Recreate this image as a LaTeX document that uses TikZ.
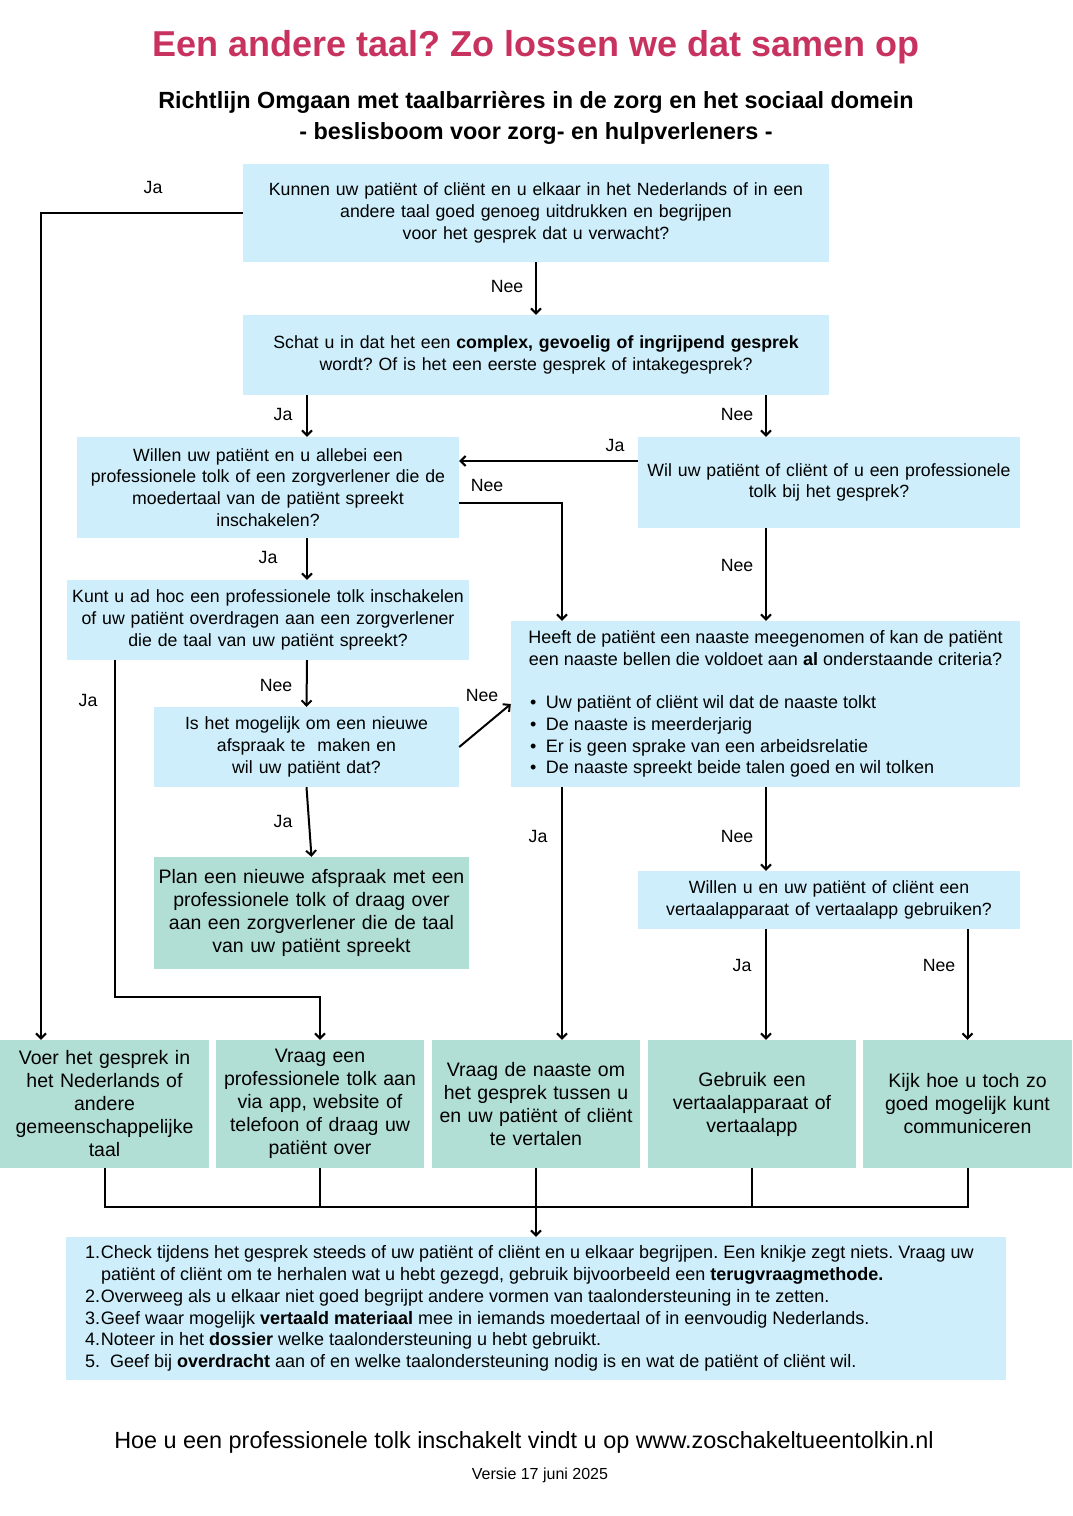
\documentclass[tikz,border=0pt]{standalone}
\usepackage{fontspec}
\setmainfont{Liberation Sans}
\usetikzlibrary{arrows.meta}
\frenchspacing

\definecolor{titlepink}{RGB}{200,50,95}
\definecolor{qblue}{RGB}{205,238,250}
\definecolor{agreen}{RGB}{178,223,213}

\newcommand{\qfont}{\fontsize{17.7}{21.7}\selectfont}
\newcommand{\lfont}{\fontsize{18}{21.7}\selectfont}
\newcommand{\afont}{\fontsize{19.5}{23}\selectfont}
\newcommand{\critbullet}{\hspace*{19pt}\makebox[16pt][l]{\textbullet}}
\newcommand{\stapnr}[1]{\makebox[16pt][l]{#1}}

\tikzset{
	qbox/.style={fill=qblue, inner sep=0pt, font=\qfont, align=center},
	abox/.style={fill=agreen, inner sep=0pt, font=\afont, align=center},
	lbl/.style={font=\qfont, inner sep=0pt},
	ln/.style={line width=2pt},
	arr/.style={line width=2pt, -{Straight Barb[length=5pt,width=10pt]}}
}

\begin{document}
\begin{tikzpicture}[x=1pt, y=-1pt]
					\def\xLinks{41};
					\def\xMidden{307};
					\def\xNaaste{562};
					\def\xRechts{766};

					\useasboundingbox (0,0) rectangle (1072,1516);

					% kop
					\node[anchor=base, text=titlepink, font=\fontsize{36}{40}\selectfont\bfseries] (titel) at (536,56) {Een andere taal? Zo lossen we dat samen op};
					\node[anchor=base, font=\fontsize{23.4}{30}\selectfont\bfseries] (sub1) at (536,108) {Richtlijn Omgaan met taalbarrières in de zorg en het sociaal domein};
					\node[anchor=base, font=\fontsize{23.4}{30}\selectfont\bfseries] (sub2) at (536,139) {- beslisboom voor zorg- en hulpverleners -};

					% vragen
					\node[qbox, text width=586pt, minimum height=98pt] (q1) at (536,213) {Kunnen uw patiënt of cliënt en u elkaar in het Nederlands of in een\\andere taal goed genoeg uitdrukken en begrijpen\\voor het gesprek dat u verwacht?};
					\node[qbox, text width=586pt, minimum height=80pt] (q2) at (536,355) {Schat u in dat het een \textbf{complex, gevoelig of ingrijpend gesprek}\\wordt? Of is het een eerste gesprek of intakegesprek?};
					\node[qbox, text width=382pt, minimum height=101pt] (q3) at (268,487.5) {Willen uw patiënt en u allebei een\\professionele tolk of een zorgverlener die de\\moedertaal van de patiënt spreekt\\inschakelen?};
					\node[qbox, text width=382pt, minimum height=91pt] (q4) at (829,482.5) {Wil uw patiënt of cliënt of u een professionele\\tolk bij het gesprek?};
					\node[qbox, text width=402pt, minimum height=80pt] (q5) at (268,620) {Kunt u ad hoc een professionele tolk inschakelen\\of uw patiënt overdragen aan een zorgverlener\\die de taal van uw patiënt spreekt?};
					\node[qbox, font=\lfont, align=none, text width=509pt, minimum height=166pt] (q6) at (765.5,704) {{\centering Heeft de patiënt een naaste meegenomen of kan de patiënt\\een naaste bellen die voldoet aan \textbf{al} onderstaande criteria?\par}\vspace{21.7pt}\raggedright
						\critbullet Uw patiënt of cliënt wil dat de naaste tolkt\\
						\critbullet De naaste is meerderjarig\\
						\critbullet Er is geen sprake van een arbeidsrelatie\\
						\critbullet De naaste spreekt beide talen goed en wil tolken\par};
					\node[qbox, text width=305pt, minimum height=80pt] (q7) at (306.5,747) {Is het mogelijk om een nieuwe\\afspraak te\ \ maken en\\wil uw patiënt dat?};
					\node[abox, text width=315pt, minimum height=112pt] (a8) at (311.5,913) {Plan een nieuwe afspraak met een\\professionele tolk of draag over\\aan een zorgverlener die de taal\\van uw patiënt spreekt};
					\node[qbox, text width=382pt, minimum height=58pt] (q9) at (829,900) {Willen u en uw patiënt of cliënt een\\vertaalapparaat of vertaalapp gebruiken?};

					% uitkomsten
					\node[abox, text width=209pt, minimum height=128pt] (b1) at (104.5,1104) {Voer het gesprek in\\het Nederlands of\\andere\\gemeenschappelijke\\taal};
					\node[abox, text width=208pt, minimum height=128pt] (b2) at (320,1104) {Vraag een\\professionele tolk aan\\via app, website of\\telefoon of draag uw\\patiënt over};
					\node[abox, text width=208pt, minimum height=128pt] (b3) at (536,1104) {Vraag de naaste om\\het gesprek tussen u\\en uw patiënt of cliënt\\te vertalen};
					\node[abox, text width=208pt, minimum height=128pt] (b4) at (752,1104) {Gebruik een\\vertaalapparaat of\\vertaalapp};
					\node[abox, text width=209pt, minimum height=128pt] (b5) at (967.5,1104) {Kijk hoe u toch zo\\goed mogelijk kunt\\communiceren};

					% altijd
					\node[qbox, font=\lfont, align=none, text width=902pt, minimum width=940pt, minimum height=143pt] (q10) at (536,1308.5) {\raggedright
						\stapnr{1.}Check tijdens het gesprek steeds of uw patiënt of cliënt en u elkaar begrijpen. Een knikje zegt niets. Vraag uw\\
						\hspace*{16pt}patiënt of cliënt om te herhalen wat u hebt gezegd, gebruik bijvoorbeeld een \textbf{terugvraagmethode.}\\
						\stapnr{2.}Overweeg als u elkaar niet goed begrijpt andere vormen van taalondersteuning in te zetten.\\
						\stapnr{3.}Geef waar mogelijk \textbf{vertaald materiaal} mee in iemands moedertaal of in eenvoudig Nederlands.\\
						\stapnr{4.}Noteer in het \textbf{dossier} welke taalondersteuning u hebt gebruikt.\\
						5.\ \ Geef bij \textbf{overdracht} aan of en welke taalondersteuning nodig is en wat de patiënt of cliënt wil.\par};

					% voet
					\node[anchor=base, font=\fontsize{23.4}{28}\selectfont] (link) at (524,1448) {Hoe u een professionele tolk inschakelt vindt u op www.zoschakeltueentolkin.nl};
					\node[anchor=base, font=\fontsize{16}{20}\selectfont] (versie) at (540,1479) {Versie 17 juni 2025};

					% pijlen
					\draw[arr] (q1.west) -| (\xLinks,0 |- b1.north);
					\draw[arr] (q1.south) -- (q2.north);
					\draw[arr] (q2.south -| \xMidden,0) -- (q3.north -| \xMidden,0);
					\draw[arr] (q2.south -| \xRechts,0) -- (q4.north -| \xRechts,0);
					\draw[arr] (q4.west |- 0,461) -- (q3.east |- 0,461);
					\draw[arr] (q3.east |- 0,503) -| (\xNaaste,0 |- q6.north);
					\draw[arr] (q4.south -| \xRechts,0) -- (q6.north -| \xRechts,0);
					\draw[arr] (q3.south -| \xMidden,0) -- (q5.north -| \xMidden,0);
					\draw[arr] (q5.south -| \xMidden,0) -- (q7.north);
					\draw[arr] (q5.south -| 115,0) -- (115,997) -| (b2.north);
					\draw[arr] (q7.east) -- (q6.west);
					\draw[arr] (q7.south) -- (a8.north);
					\draw[arr] (q6.south -| \xNaaste,0) -- (b3.north -| \xNaaste,0);
					\draw[arr] (q6.south -| \xRechts,0) -- (q9.north -| \xRechts,0);
					\draw[arr] (q9.south -| \xRechts,0) -- (b4.north -| \xRechts,0);
					\draw[arr] (q9.south -| b5.north) -- (b5.north);

					\coordinate (samen) at (536,1207);
					\draw[ln] (b1.south) |- (samen) -| (b5.south);
					\foreach \b in {b2,b4}
						\draw[ln] (\b.south) -- (\b.south |- samen);
					\draw[arr] (b3.south) -- (q10.north);

					% labels
					\node[lbl] (jaA) at (153,187) {Ja};
					\node[lbl] (neeA) at (507,286) {Nee};
					\node[lbl] (jaB) at (283,414) {Ja};
					\node[lbl] (neeB) at (737,414) {Nee};
					\node[lbl] (jaC) at (615,445) {Ja};
					\node[lbl] (neeC) at (487,485) {Nee};
					\node[lbl] (jaD) at (268,557) {Ja};
					\node[lbl] (neeD) at (737,565) {Nee};
					\node[lbl] (jaE) at (88,700) {Ja};
					\node[lbl] (neeE) at (276,685) {Nee};
					\node[lbl] (neeF) at (482,695) {Nee};
					\node[lbl] (jaF) at (283,821) {Ja};
					\node[lbl] (jaG) at (538,836) {Ja};
					\node[lbl] (neeG) at (737,836) {Nee};
					\node[lbl] (jaH) at (742,965) {Ja};
					\node[lbl] (neeH) at (939,965) {Nee};
				\end{tikzpicture}
\end{document}
